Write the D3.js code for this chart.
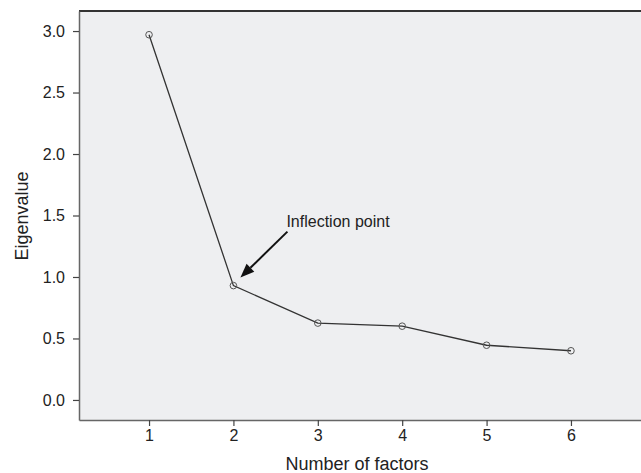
<!DOCTYPE html>
<html><head><meta charset="utf-8">
<script src="https://cdn.jsdelivr.net/npm/d3@7"></script>
<style>body{margin:0;background:#fff}svg{display:block}</style>
</head><body>
<script>
const factors = [1, 2, 3, 4, 5, 6];
const eigenvalues = [2.97, 0.93, 0.625, 0.60, 0.445, 0.40];
const yTicks = [0.0, 0.5, 1.0, 1.5, 2.0, 2.5, 3.0];
const xTicks = [1, 2, 3, 4, 5, 6];

const W = 641, H = 473;
const FONT = "Liberation Sans, Arial, sans-serif";
const svg = d3.select("body").append("svg").attr("width", W).attr("height", H);
const x = d3.scaleLinear().domain([0.17, 6.83]).range([79, 641]);
const y = d3.scaleLinear().domain([-0.163, 3.163]).range([420, 11]);

svg.append("rect").attr("x", 79).attr("y", 11).attr("width", 641 - 79).attr("height", 409).attr("fill", "#eeeff1");
svg.append("line").attr("x1", 79).attr("x2", 641).attr("y1", 11).attr("y2", 11).attr("stroke", "#333").attr("stroke-width", 2);

const yAxis = svg.append("g").attr("transform", "translate(79,0)")
  .call(d3.axisLeft(y).tickValues(yTicks).tickFormat(d3.format(".1f")).tickSize(6).tickSizeOuter(0));
const xAxis = svg.append("g").attr("transform", "translate(0,420)")
  .call(d3.axisBottom(x).tickValues(xTicks).tickFormat(d3.format("d")).tickSize(6).tickSizeOuter(0));
[yAxis, xAxis].forEach(a => {
  a.attr("font-family", FONT).attr("font-size", 16);
  a.select(".domain").attr("stroke", "#666").attr("stroke-width", 1.5);
  a.selectAll(".tick line").attr("stroke", "#444").attr("stroke-width", 1.2);
  a.selectAll("text").attr("fill", "#222");
});
yAxis.selectAll("text").attr("x", -14);
xAxis.selectAll("text").attr("y", 10);

const data = factors.map((f, i) => ({f, v: eigenvalues[i]}));
svg.append("path").datum(data)
  .attr("d", d3.line().x(d => x(d.f)).y(d => y(d.v)))
  .attr("fill", "none").attr("stroke", "#333").attr("stroke-width", 1.3);
svg.selectAll("circle.pt").data(data).enter().append("circle")
  .attr("cx", d => x(d.f)).attr("cy", d => y(d.v)).attr("r", 3.3)
  .attr("fill", "none").attr("stroke", "#555").attr("stroke-width", 1);

// annotation arrow
const px = x(factors[1]), py = y(eigenvalues[1]);
const sx = px + 54, sy = py - 54, tx = px + 7, ty = py - 8;
const ang = Math.atan2(ty - sy, tx - sx);
const L = 14, Wd = 5.5;
const bx = tx - L * Math.cos(ang), by = ty - L * Math.sin(ang);
svg.append("line").attr("x1", sx).attr("y1", sy).attr("x2", bx).attr("y2", by)
  .attr("stroke", "#111").attr("stroke-width", 2);
svg.append("path").attr("d", `M${tx},${ty} L${bx + Wd * Math.sin(ang)},${by - Wd * Math.cos(ang)} L${bx - Wd * Math.sin(ang)},${by + Wd * Math.cos(ang)} Z`)
  .attr("fill", "#111");
svg.append("text").attr("x", px + 53).attr("y", py - 59).attr("font-family", FONT).attr("font-size", 16).attr("fill", "#222").text("Inflection point");

svg.append("text").attr("x", 357).attr("y", 470).attr("text-anchor", "middle").attr("font-family", FONT).attr("font-size", 18).attr("fill", "#222").text("Number of factors");
svg.append("text").attr("transform", "translate(28,216) rotate(-90)").attr("text-anchor", "middle").attr("font-family", FONT).attr("font-size", 18).attr("fill", "#222").text("Eigenvalue");
</script>
</body></html>
